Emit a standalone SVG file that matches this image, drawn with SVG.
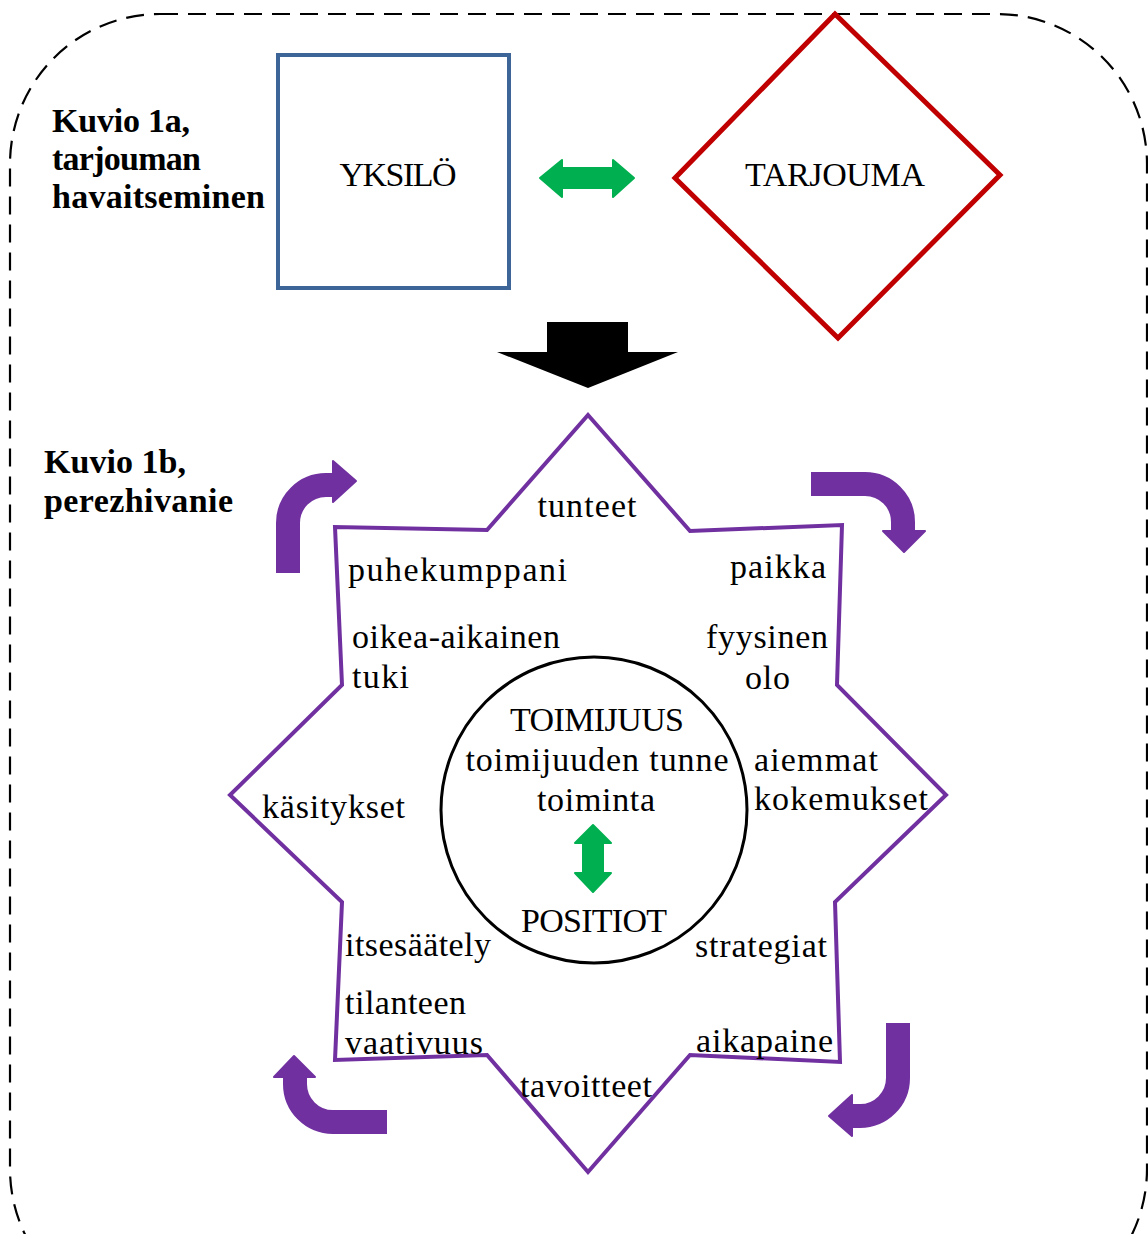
<svg xmlns="http://www.w3.org/2000/svg" width="1148" height="1234" viewBox="0 0 1148 1234">
<style>
.t{font-family:"Liberation Serif","Times New Roman",serif;font-size:34px;fill:#000}
.b{font-family:"Liberation Serif","Times New Roman",serif;font-size:34px;font-weight:bold;fill:#000}
.pa{fill:none;stroke:#7030a0;stroke-width:24}
.ph{fill:#7030a0;stroke:#7030a0;stroke-width:2;stroke-linejoin:round}
.g{fill:#00b050;stroke:#00b050;stroke-width:2;stroke-linejoin:round}
</style>
<rect width="1148" height="1234" fill="#fff"/>
<g id="frame">
<rect x="10" y="14" width="1137" height="1305" rx="150" ry="150" fill="none" stroke="#000" stroke-width="2.2" stroke-dasharray="18 10"/>
</g>
<g id="label1a">
<text class="b" x="52" y="132" textLength="138">Kuvio 1a,</text>
<text class="b" x="52" y="170" textLength="149">tarjouman</text>
<text class="b" x="52" y="208" textLength="213">havaitseminen</text>
</g>
<g id="label1b">
<text class="b" x="44" y="473" textLength="142">Kuvio 1b,</text>
<text class="b" x="44" y="512" textLength="189">perezhivanie</text>
</g>
<g id="yksilo">
<rect x="278" y="55" width="231" height="233" fill="none" stroke="#3d6597" stroke-width="4"/>
<text class="t" x="398" y="186" text-anchor="middle" textLength="117">YKSILÖ</text>
</g>
<g id="tarjouma">
<polygon points="835,14 1000,175 838,338 675,178" fill="none" stroke="#c00000" stroke-width="5"/>
<text class="t" x="835" y="186" text-anchor="middle" textLength="180">TARJOUMA</text>
</g>
<g id="star">
<polygon points="588,415 690,531 842,525 837,685 946,795 835,902 840,1062 690,1055 588,1172 487,1055 335,1060 342,902 230,795 342,685 335,527 487,530" fill="none" stroke="#7030a0" stroke-width="4"/>
<text class="t" x="587" y="517" text-anchor="middle" textLength="99">tunteet</text>
<text class="t" x="348" y="581" textLength="219">puhekumppani</text>
<text class="t" x="730" y="578" textLength="96">paikka</text>
<text class="t" x="352" y="648" textLength="208">oikea-aikainen</text>
<text class="t" x="352" y="688" textLength="57">tuki</text>
<text class="t" x="706" y="648" textLength="122">fyysinen</text>
<text class="t" x="745" y="689" textLength="45">olo</text>
<text class="t" x="754" y="771" textLength="124">aiemmat</text>
<text class="t" x="754" y="810" textLength="174">kokemukset</text>
<text class="t" x="262" y="818" textLength="143">käsitykset</text>
<text class="t" x="345" y="956" textLength="146">itsesäätely</text>
<text class="t" x="695" y="957" textLength="132">strategiat</text>
<text class="t" x="345" y="1014" textLength="121">tilanteen</text>
<text class="t" x="345" y="1054" textLength="138">vaativuus</text>
<text class="t" x="696" y="1052" textLength="137">aikapaine</text>
<text class="t" x="586" y="1097" text-anchor="middle" textLength="132">tavoitteet</text>
</g>
<g id="toimijuus">
<circle cx="594" cy="810" r="153" fill="none" stroke="#000" stroke-width="3"/>
<text class="t" x="597" y="731" text-anchor="middle" textLength="174">TOIMIJUUS</text>
<text class="t" x="597" y="771" text-anchor="middle" textLength="263">toimijuuden tunne</text>
<text class="t" x="596" y="811" text-anchor="middle" textLength="118">toiminta</text>
<text class="t" x="594" y="932" text-anchor="middle" textLength="146">POSITIOT</text>
</g>
<g id="connectors">
<polygon class="g" points="540,178 562,160 562,168 613,168 613,160 634,178 613,197 613,188 562,188 562,197"/>
<polygon fill="#000" points="547,322 628,322 628,352 678,352 588,388 497,352 547,352"/>
<polygon class="g" points="593,825 611,843 603,843 603,873 611,873 593,892 575,873 583,873 583,843 575,843"/>
<path class="pa" d="M288,573 V523 A38,38 0 0 1 326,485 H336"/>
<polygon class="ph" points="333,461 356,481 333,502"/>
<path class="pa" d="M811,484 H865 A38,38 0 0 1 903,522 V533"/>
<polygon class="ph" points="883,531 925,531 904,552"/>
<path class="pa" d="M387,1122 H333 A38,38 0 0 1 295,1084 V1076"/>
<polygon class="ph" points="274,1077 315,1077 294,1056"/>
<path class="pa" d="M898,1023 V1078 A38,38 0 0 1 860,1116 H851"/>
<polygon class="ph" points="852,1095 852,1136 829,1116"/>
</g>
</svg>
